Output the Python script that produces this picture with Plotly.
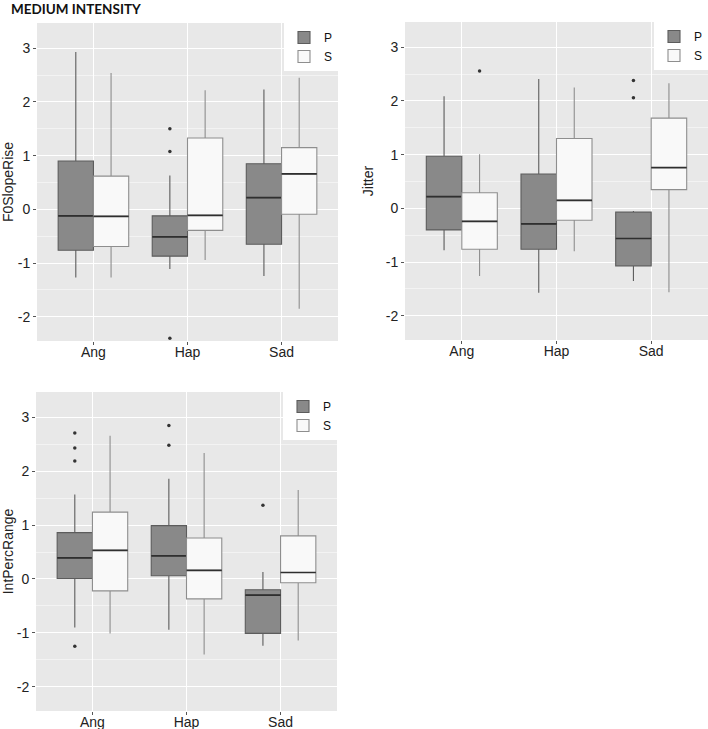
import plotly.graph_objects as go

categories = ["Ang", "Hap", "Sad"]
groups = ["P", "S"]
ytick_vals = [-2, -1, 0, 1, 2, 3]
ytick_text = ["-2", "-1", "0", "1", "2", "3"]

# ---- F0SlopeRise ----
f0_P_lower = [-1.27, -1.11, -1.24]
f0_P_q1 = [-0.76, -0.87, -0.65]
f0_P_med = [-0.12, -0.51, 0.22]
f0_P_q3 = [0.90, -0.12, 0.85]
f0_P_upper = [2.93, 0.63, 2.23]
f0_P_out = [[], [1.50, 1.08, -2.40], []]

f0_S_lower = [-1.27, -0.94, -1.85]
f0_S_q1 = [-0.69, -0.39, -0.09]
f0_S_med = [-0.13, -0.11, 0.66]
f0_S_q3 = [0.62, 1.33, 1.15]
f0_S_upper = [2.54, 2.22, 2.45]
f0_S_out = [[], [], []]

# ---- Jitter ----
jit_P_lower = [-0.78, -1.57, -1.35]
jit_P_q1 = [-0.40, -0.76, -1.07]
jit_P_med = [0.22, -0.29, -0.56]
jit_P_q3 = [0.97, 0.64, -0.07]
jit_P_upper = [2.09, 2.41, -0.05]
jit_P_out = [[], [], [2.38, 2.06]]

jit_S_lower = [-1.26, -0.80, -1.56]
jit_S_q1 = [-0.76, -0.22, 0.35]
jit_S_med = [-0.24, 0.15, 0.76]
jit_S_q3 = [0.29, 1.30, 1.68]
jit_S_upper = [1.01, 2.25, 2.33]
jit_S_out = [[2.56], [], []]

# ---- IntPercRange ----
ipr_P_lower = [-0.90, -0.94, -1.24]
ipr_P_q1 = [0.01, 0.06, -1.01]
ipr_P_med = [0.39, 0.43, -0.30]
ipr_P_q3 = [0.86, 0.99, -0.20]
ipr_P_upper = [1.57, 1.86, 0.13]
ipr_P_out = [[2.71, 2.43, 2.19, -1.25], [2.85, 2.48], [1.37]]

ipr_S_lower = [-1.01, -1.40, -1.14]
ipr_S_q1 = [-0.22, -0.37, -0.07]
ipr_S_med = [0.53, 0.16, 0.12]
ipr_S_q3 = [1.24, 0.76, 0.80]
ipr_S_upper = [2.66, 2.34, 1.65]
ipr_S_out = [[], [], []]

panels = [
    ("F0SlopeRise",
     (f0_P_lower, f0_P_q1, f0_P_med, f0_P_q3, f0_P_upper, f0_P_out),
     (f0_S_lower, f0_S_q1, f0_S_med, f0_S_q3, f0_S_upper, f0_S_out)),
    ("Jitter",
     (jit_P_lower, jit_P_q1, jit_P_med, jit_P_q3, jit_P_upper, jit_P_out),
     (jit_S_lower, jit_S_q1, jit_S_med, jit_S_q3, jit_S_upper, jit_S_out)),
    ("IntPercRange",
     (ipr_P_lower, ipr_P_q1, ipr_P_med, ipr_P_q3, ipr_P_upper, ipr_P_out),
     (ipr_S_lower, ipr_S_q1, ipr_S_med, ipr_S_q3, ipr_S_upper, ipr_S_out)),
]

W, H = 708, 729
# plot areas in pixels: (left, right, top, bottom)
areas = [(37, 338, 23, 341), (405, 708, 22, 340), (36, 337, 392, 711)]

fill = {"P": "#898989", "S": "#F9F9F9"}
line = {"P": "#5c5c5c", "S": "#8e8e8e"}
median_color = "#2f2f2f"


def pts(lists):
    # empty outlier lists get a null placeholder so the 2-D sample array stays valid
    return [lst if lst else [None] for lst in lists]


fig = go.Figure()
for i, (title, pstats, sstats) in enumerate(panels):
    n = "" if i == 0 else str(i + 1)
    for g, st in zip(groups, (pstats, sstats)):
        lo, q1, med, q3, up, out = st
        fig.add_trace(go.Box(
            name=g, x=categories, y=pts(out), orientation="v",
            lowerfence=lo, q1=q1, median=med, q3=q3, upperfence=up,
            boxpoints="outliers", jitter=0, pointpos=0,
            marker=dict(color="#333333", size=3.5),
            fillcolor=fill[g], line=dict(color=line[g], width=1.1),
            whiskerwidth=0, offsetgroup=g, alignmentgroup="a" + n,
            xaxis="x" + n, yaxis="y" + n,
            legend="legend" + n, showlegend=True, hoverinfo="skip",
        ))
        # darker, thicker median bar drawn on top in the same slot
        fig.add_trace(go.Box(
            name=g, x=categories, orientation="v",
            lowerfence=med, q1=med, median=med, q3=med, upperfence=med,
            boxpoints=False, fillcolor="rgba(0,0,0,0)",
            line=dict(color=median_color, width=1.7),
            whiskerwidth=0, offsetgroup=g, alignmentgroup="a" + n,
            xaxis="x" + n, yaxis="y" + n,
            showlegend=False, hoverinfo="skip",
        ))

layout = dict(
    width=W, height=H,
    margin=dict(l=0, r=0, t=0, b=0, autoexpand=False),
    paper_bgcolor="white",
    plot_bgcolor="#E8E8E8",
    boxmode="group", boxgap=0.25, boxgroupgap=0.0,
    font=dict(family="Liberation Sans, Arial", size=14, color="#222222"),
    showlegend=True,
)

for i, (title, _, _) in enumerate(panels):
    n = "" if i == 0 else str(i + 1)
    l, r, t, b = areas[i]
    layout["xaxis" + n] = dict(
        domain=[l / W, r / W], anchor="y" + n,
        type="category", categoryorder="array", categoryarray=categories,
        range=[-0.6, 2.6], automargin=False,
        showgrid=True, gridcolor="white", gridwidth=1.2,
        ticks="outside", ticklen=3, tickcolor="#555555",
        tickfont=dict(size=14, color="#222222"), ticklabelstandoff=-5,
        showline=False, zeroline=False,
    )
    layout["yaxis" + n] = dict(
        domain=[1 - b / H, 1 - t / H], anchor="x" + n,
        range=[-2.45, 3.47], automargin=False,
        tickvals=ytick_vals, ticktext=ytick_text,
        showgrid=True, gridcolor="white", gridwidth=1.2,
        minor=dict(dtick=0.5, tick0=0.5, showgrid=True, gridcolor="#F3F3F3", gridwidth=0.6),
        ticks="outside", ticklen=3, tickcolor="#555555",
        tickfont=dict(size=14, color="#222222"),
        zeroline=False, showline=False,
        title=dict(text=title, font=dict(size=14, color="#222222"), standoff=8),
    )
    layout["legend" + n] = dict(
        x=r / W, y=1 - t / H, xanchor="right", yanchor="top",
        xref="paper", yref="paper",
        bgcolor="white", borderwidth=0,
        font=dict(size=12, color="#111111"),
        itemwidth=30, tracegroupgap=0,
    )

layout["annotations"] = [dict(
    text="<b>MEDIUM INTENSITY</b>", x=9 / W, y=1 - 0 / H, yshift=1,
    xref="paper", yref="paper", xanchor="left", yanchor="top",
    showarrow=False, font=dict(family="Lato, Open Sans", size=13.5, color="#111111"),
)]

fig.update_layout(**layout)
fig.write_html(
    "out.html",
    config={"displayModeBar": False},
    post_script="document.body.style.margin='0';document.body.style.overflow='hidden';",
)
